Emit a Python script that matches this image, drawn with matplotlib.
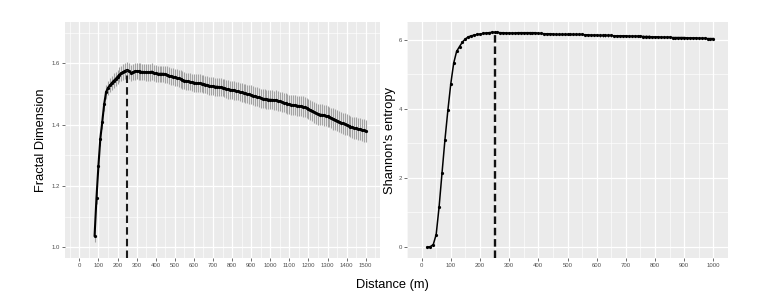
import numpy as np
import matplotlib
matplotlib.use("Agg")
import matplotlib.pyplot as plt
from matplotlib.ticker import MultipleLocator

plt.rcParams['font.family'] = ['Liberation Sans', 'DejaVu Sans']

# ---------------- data ----------------
fd_dist = np.arange(80, 1501, 10)
fd_mean = [
    1.038, 1.162, 1.265, 1.354, 1.408, 1.466, 1.506, 1.520, 1.528, 1.536,
    1.543, 1.549, 1.556, 1.563, 1.568, 1.572, 1.576, 1.578, 1.575, 1.569,
    1.571, 1.574, 1.575, 1.574, 1.573, 1.572, 1.572, 1.571, 1.571, 1.571,
    1.573, 1.569, 1.567, 1.566, 1.566, 1.566, 1.566, 1.565, 1.563, 1.560,
    1.558, 1.557, 1.555, 1.553, 1.551, 1.549, 1.546, 1.544, 1.542, 1.541,
    1.540, 1.538, 1.537, 1.536, 1.535, 1.535, 1.534, 1.533, 1.531, 1.529,
    1.527, 1.526, 1.525, 1.524, 1.524, 1.523, 1.522, 1.521, 1.519, 1.517,
    1.515, 1.514, 1.513, 1.512, 1.510, 1.509, 1.507, 1.505, 1.503, 1.502,
    1.500, 1.499, 1.497, 1.495, 1.493, 1.491, 1.489, 1.487, 1.485, 1.484,
    1.483, 1.482, 1.481, 1.481, 1.480, 1.480, 1.478, 1.476, 1.474, 1.472,
    1.470, 1.468, 1.466, 1.465, 1.464, 1.463, 1.462, 1.461, 1.460, 1.459,
    1.457, 1.454, 1.451, 1.448, 1.445, 1.441, 1.437, 1.434, 1.433, 1.432,
    1.431, 1.429, 1.427, 1.425, 1.422, 1.419, 1.416, 1.413, 1.410, 1.407,
    1.404, 1.402, 1.400, 1.397, 1.394, 1.391, 1.389, 1.388, 1.386, 1.385,
    1.383, 1.381, 1.378,
]
fd_err = [
    0.020, 0.021, 0.021, 0.022, 0.022, 0.022, 0.022, 0.023, 0.023, 0.023,
    0.024, 0.024, 0.024, 0.025, 0.025, 0.025, 0.026, 0.026, 0.026, 0.026,
    0.026, 0.027, 0.027, 0.027, 0.027, 0.027, 0.027, 0.027, 0.027, 0.027,
    0.027, 0.027, 0.027, 0.027, 0.027, 0.027, 0.027, 0.028, 0.028, 0.028,
    0.028, 0.028, 0.028, 0.028, 0.028, 0.028, 0.028, 0.028, 0.028, 0.028,
    0.028, 0.028, 0.029, 0.029, 0.029, 0.029, 0.029, 0.029, 0.029, 0.029,
    0.029, 0.029, 0.029, 0.029, 0.029, 0.029, 0.029, 0.029, 0.030, 0.030,
    0.030, 0.030, 0.030, 0.030, 0.030, 0.030, 0.030, 0.030, 0.030, 0.030,
    0.030, 0.030, 0.031, 0.031, 0.031, 0.031, 0.031, 0.031, 0.031, 0.031,
    0.031, 0.031, 0.031, 0.031, 0.031, 0.032, 0.032, 0.032, 0.032, 0.032,
    0.032, 0.032, 0.032, 0.032, 0.032, 0.033, 0.033, 0.033, 0.033, 0.033,
    0.033, 0.033, 0.033, 0.033, 0.033, 0.034, 0.034, 0.034, 0.034, 0.034,
    0.034, 0.034, 0.034, 0.034, 0.034, 0.035, 0.035, 0.035, 0.035, 0.035,
    0.035, 0.035, 0.035, 0.035, 0.035, 0.035, 0.036, 0.036, 0.036, 0.036,
    0.036, 0.036, 0.036,
]

se_dist = np.arange(20, 1001, 10)
se_mean = [
    0.00, 0.01, 0.07, 0.36, 1.16, 2.14, 3.10, 3.95, 4.72, 5.32,
    5.66, 5.80, 5.93, 6.02, 6.08, 6.11, 6.13, 6.15, 6.16, 6.18,
    6.19, 6.20, 6.21, 6.21, 6.21, 6.20, 6.20, 6.19, 6.19, 6.19,
    6.19, 6.20, 6.20, 6.20, 6.20, 6.20, 6.20, 6.20, 6.18, 6.18,
    6.17, 6.17, 6.17, 6.16, 6.15, 6.15, 6.15, 6.15, 6.15, 6.15,
    6.15, 6.15, 6.15, 6.15, 6.14, 6.14, 6.13, 6.13, 6.13, 6.12,
    6.12, 6.12, 6.12, 6.12, 6.11, 6.11, 6.11, 6.11, 6.11, 6.10,
    6.10, 6.10, 6.10, 6.10, 6.09, 6.09, 6.09, 6.08, 6.08, 6.08,
    6.07, 6.07, 6.07, 6.07, 6.06, 6.06, 6.06, 6.06, 6.06, 6.05,
    6.05, 6.05, 6.05, 6.04, 6.04, 6.04, 6.03, 6.03, 6.03,
]

peak_dist = 250
fd_peak = 1.578
se_peak = 6.21

# ---------------- figure ----------------
W, H = 763, 300
fig = plt.figure(figsize=(W / 100, H / 100), dpi=100)

def px_axes(x0, y0, x1, y1):
    return fig.add_axes([x0 / W, 1 - y1 / H, (x1 - x0) / W, (y1 - y0) / H])

ax1 = px_axes(65, 22, 380, 258)
ax2 = px_axes(407, 22, 728, 258)

BG = '#EBEBEB'
TXT = '#4D4D4D'

def style(ax):
    ax.set_facecolor(BG)
    for s in ax.spines.values():
        s.set_visible(False)
    ax.grid(which='major', color='white', linewidth=0.9)
    ax.grid(which='minor', color='white', linewidth=0.45)
    ax.set_axisbelow(True)
    ax.tick_params(which='major', length=2.2, width=0.5, color='#333333',
                   labelsize=4.3, labelcolor=TXT, pad=1.5)
    ax.tick_params(which='minor', length=0)

# Left: fractal dimension
style(ax1)
ax1.errorbar(fd_dist, fd_mean, yerr=fd_err, fmt='none', ecolor='#A3A3A3',
             elinewidth=0.8, capsize=0, zorder=2)
ax1.plot(fd_dist, fd_mean, color='black', linewidth=1.5, zorder=3)
ax1.plot(fd_dist, fd_mean, linestyle='none', marker='o', markersize=1.3,
         color='black', zorder=4)
ax1.set_xlim(-75, 1575)
ax1.set_ylim(0.965, 1.735)
ax1.xaxis.set_major_locator(MultipleLocator(100))
ax1.xaxis.set_minor_locator(MultipleLocator(50))
ax1.yaxis.set_major_locator(MultipleLocator(0.2))
ax1.yaxis.set_minor_locator(MultipleLocator(0.1))
ax1.set_xticks(np.arange(0, 1501, 100))
ax1.set_yticks([1.0, 1.2, 1.4, 1.6])
ax1.set_yticklabels(['1.0', '1.2', '1.4', '1.6'])
ax1.plot([peak_dist, peak_dist], [0.965, fd_peak], color='#1a1a1a',
         linewidth=1.5, dashes=(3.6, 2.0), zorder=5)
ax1.set_ylabel('Fractal Dimension', fontsize=9.3, color='black', labelpad=3)

# Right: Shannon entropy
style(ax2)
ax2.errorbar(se_dist, se_mean, yerr=0.03, fmt='none', ecolor='#333333',
             elinewidth=0.5, capsize=0, zorder=2)
ax2.plot(se_dist, se_mean, color='black', linewidth=1.1, zorder=3)
ax2.plot(se_dist, se_mean, linestyle='none', marker='o', markersize=1.3,
         color='black', zorder=4)
ax2.set_xlim(-50, 1050)
ax2.set_ylim(-0.32, 6.51)
ax2.xaxis.set_major_locator(MultipleLocator(100))
ax2.xaxis.set_minor_locator(MultipleLocator(50))
ax2.yaxis.set_major_locator(MultipleLocator(2))
ax2.yaxis.set_minor_locator(MultipleLocator(1))
ax2.plot([peak_dist, peak_dist], [-0.32, se_peak], color='#111111',
         linewidth=1.7, dashes=(3.2, 1.6), zorder=5)
ax2.set_ylabel("Shannon's entropy", fontsize=9.3, color='black', labelpad=2)

fig.text(392 / W, 1 - 285 / H, 'Distance (m)', ha='center', va='center',
         fontsize=9.3, color='black')

fig.savefig('out.png', dpi=100, facecolor='white')
